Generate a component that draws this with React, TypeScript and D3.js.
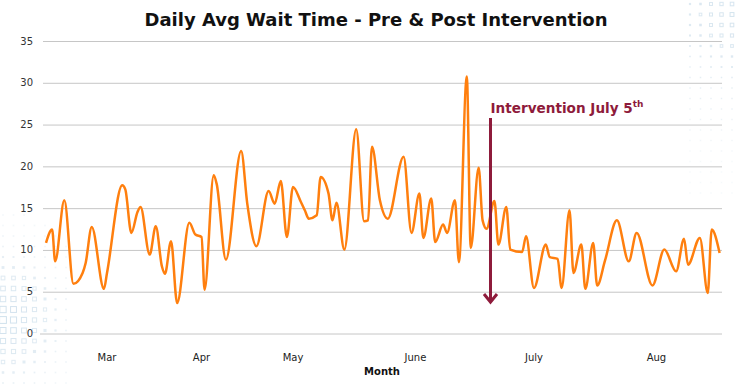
import * as d3 from 'd3';

// days counted from 1 March (negative = late February)
const dayOfPeriod = [
  -5, -3, -2, 1, 4, 7, 8, 10, 14, 15, 20, 21, 23, 25, 26, 29, 31, 33, 34, 36, 38, 42, 44, 46, 47,
  50, 51, 54, 59, 61, 64, 68, 70, 72, 74, 76, 78, 79, 80, 82, 83, 85, 86, 87, 89, 92, 94, 95, 96,
  98, 100, 104, 106, 108, 109, 111, 112, 114, 115, 117, 118, 120, 121, 123, 124, 125, 127, 128,
  130, 131, 134, 135, 137, 140, 141, 143, 144, 146, 147, 149, 150, 152, 153, 155, 158, 161, 163,
  167, 170, 173, 175, 176, 179, 181, 182, 184,
];
const waitTimes = [
  10.9, 12.5, 8.7, 16.0, 6.0, 7.3, 8.5, 12.8, 5.4, 7.3, 17.8, 17.3, 12.1, 14.6, 15.2, 9.5, 12.9, 8.1,
  7.2, 11.1, 3.7, 13.3, 11.9, 11.6, 5.3, 19.0, 17.9, 8.9, 21.9, 15.6, 10.5, 17.1, 15.6, 18.3, 11.6,
  17.6, 15.8, 14.8, 13.8, 14.2, 18.8, 16.8, 13.6, 15.7, 10.1, 24.5, 13.5, 13.6, 22.4, 16.0, 13.8,
  21.2, 12.1, 16.8, 11.5, 16.2, 11.0, 13.1, 12.1, 16.0, 8.6, 30.8, 10.3, 19.9, 13.6, 12.6, 15.9,
  10.7, 15.2, 10.1, 9.8, 11.7, 5.5, 10.7, 9.2, 9.0, 5.5, 14.8, 7.3, 10.7, 5.4, 10.9, 5.8, 8.8, 13.6,
  8.7, 12.1, 5.8, 10.1, 7.5, 11.4, 8.3, 11.5, 4.9, 12.5, 9.7,
];

const monthLabels = ['Mar', 'Apr', 'May', 'June', 'July', 'Aug'];
const monthLabelDays = [15, 46, 76, 107, 137, 168];
const yTicks = [0, 5, 10, 15, 20, 25, 30, 35];
const interventionDay = 126; // July 5th

const W = 735;
const H = 385;
const ACCENT = '#8e1b3b';
const FONT = '"DejaVu Sans", Verdana, sans-serif';

function Decoration() {
  const cells: { x: number; y: number; s: number; outline: boolean; o: number }[] = [];
  const pitch = 10.5;
  // bottom-left patch
  for (let i = 0; i < 7; i++) {
    for (let j = 0; j < 23; j++) {
      const cx = 3 + i * pitch;
      const cy = 152 + j * pitch;
      const d = Math.hypot(cx - 4, (cy - 318) * 0.9);
      if (d > 95) continue;
      const s = Math.max(1.6, 7 - d / 11);
      cells.push({ x: cx, y: cy, s, outline: s > 3.2, o: Math.max(0.25, 1 - d / 110) });
    }
  }
  // top-right patch
  for (let i = 0; i < 5; i++) {
    for (let j = 0; j < 19; j++) {
      const cx = 690 + i * pitch;
      const cy = 4 + j * pitch;
      const d = Math.hypot(cx - 735, cy - 15);
      if (d > 190) continue;
      const s = Math.max(1.4, 4 - d / 25);
      cells.push({ x: cx, y: cy, s, outline: s > 2.6, o: Math.max(0.2, 0.9 - d / 210) });
    }
  }
  return (
    <g>
      {cells.map((c, k) =>
        c.outline ? (
          <rect key={k} x={c.x - c.s / 2} y={c.y - c.s / 2} width={c.s} height={c.s}
            fill="none" stroke="#cfe0ec" strokeWidth={1} opacity={c.o} />
        ) : (
          <rect key={k} x={c.x - c.s / 2} y={c.y - c.s / 2} width={c.s} height={c.s}
            fill="#cfe0ec" opacity={c.o} />
        )
      )}
    </g>
  );
}

export default function App() {
  const x = d3.scaleLinear().domain([15, 76, 168]).range([107, 293, 656.4]);
  const y = d3.scaleLinear().domain([0, 35]).range([334, 41.5]);

  const pts = dayOfPeriod.map((d, i) => [d, waitTimes[i]] as [number, number]);
  const line = d3
    .line<[number, number]>()
    .x(d => x(d[0]))
    .y(d => y(d[1]))
    .curve(d3.curveMonotoneX);

  const ax = x(interventionDay);

  return (
    <svg width={W} height={H} style={{ position: 'absolute', left: 0, top: 0, background: '#fff' }}
      fontFamily={FONT}>
      <Decoration />

      {/* grid */}
      {yTicks.map(t => (
        <g key={t}>
          <line x1={t === 0 ? 40 : 43} x2={722} y1={y(t)} y2={y(t)} stroke="#c6c6c6" strokeWidth={1} />
          <text x={33} y={y(t)} textAnchor="end" dominantBaseline="middle" fontSize={10} fill="#333">
            {t}
          </text>
        </g>
      ))}

      <text x={376} y={26} textAnchor="middle" fontSize={18} fontWeight="bold" fill="#111">
        Daily Avg Wait Time - Pre &amp; Post Intervention
      </text>

      {monthLabels.map((m, i) => (
        <text key={m} x={x(monthLabelDays[i])} y={361} textAnchor="middle" fontSize={10} fill="#222">
          {m}
        </text>
      ))}
      <text x={382} y={375} textAnchor="middle" fontSize={10} fontWeight="bold" fill="#111">
        Month
      </text>

      <path d={line(pts) || ''} fill="none" stroke="#ff7f0e" strokeWidth={2.5} strokeLinejoin="round" />

      {/* intervention marker */}
      <line x1={ax} x2={ax} y1={118} y2={302} stroke={ACCENT} strokeWidth={3} />
      <polyline points={`${ax - 6.5},${294} ${ax},${302} ${ax + 6.5},${294}`} fill="none"
        stroke={ACCENT} strokeWidth={3} />
      <text x={ax} y={113} fontSize={13.6} fontWeight="bold" fill={ACCENT}>
        Intervention July 5
        <tspan fontSize={9} dy={-6}>th</tspan>
      </text>
    </svg>
  );
}
